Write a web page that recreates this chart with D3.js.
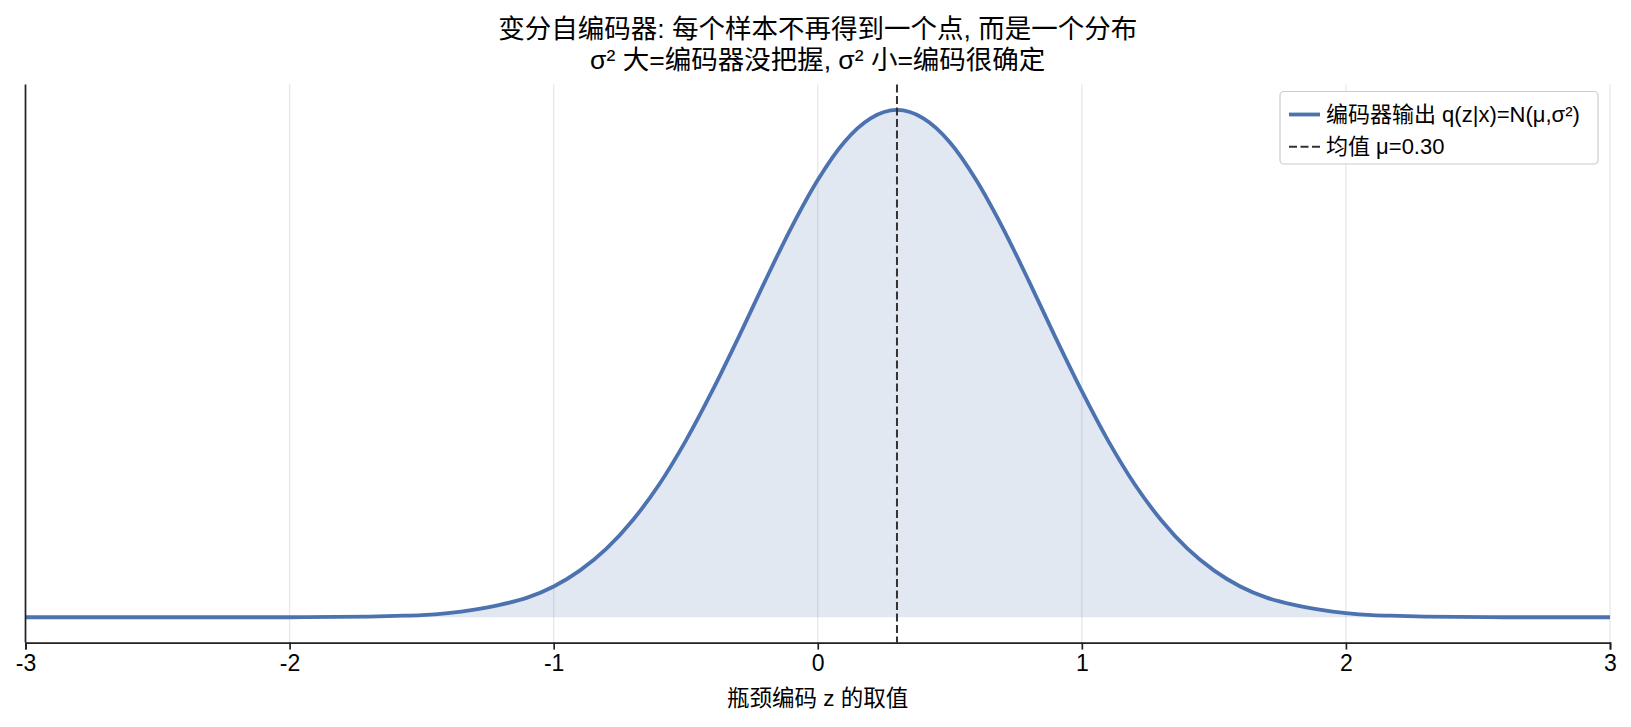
<!DOCTYPE html>
<html>
<head>
<meta charset="utf-8">
<script src="https://cdn.jsdelivr.net/npm/d3@7"></script>
<style>
  body { margin: 0; background: #fff; }
  svg text { font-family: "Liberation Sans", Arial, "Noto Sans CJK SC", sans-serif; fill: #000; }
</style>
</head>
<body>
<div class="vae-plot"></div>
<script>
// values: z and density of q(z|x)
const zValues = [-3.0, -2.5, -2.0,
  -1.7, -1.6, -1.5, -1.4, -1.3, -1.2, -1.1, -1.0, -0.9, -0.8, -0.7, -0.6, -0.5, -0.4, -0.3, -0.2, -0.1,
  0.0, 0.1, 0.2, 0.3, 0.4, 0.5, 0.6, 0.7, 0.8, 0.9, 1.0, 1.1, 1.2, 1.3, 1.4, 1.5, 1.6, 1.7, 1.8, 1.9,
  2.0, 2.1, 2.2, 2.3, 2.6, 3.0];
const density = [0.000, 0.000, 0.000,
  0.001, 0.002, 0.003, 0.006, 0.011, 0.018, 0.028, 0.044, 0.067, 0.098, 0.139, 0.190, 0.252, 0.323, 0.400, 0.480, 0.557,
  0.625, 0.679, 0.713, 0.725, 0.713, 0.679, 0.625, 0.557, 0.480, 0.400, 0.323, 0.252, 0.190, 0.139, 0.098, 0.067, 0.044, 0.028, 0.018, 0.011,
  0.006, 0.003, 0.002, 0.001, 0.000, 0.000];
const muValue = 0.30;
const xTicks = [-3, -2, -1, 0, 1, 2, 3];
const titleLines = ['变分自编码器: 每个样本不再得到一个点, 而是一个分布', 'σ² 大=编码器没把握, σ² 小=编码很确定'];
const xLabel = '瓶颈编码 z 的取值';
const legendLabels = ['编码器输出 q(z|x)=N(μ,σ²)', '均值 μ=0.30'];

const width = 1631;
const height = 727;
const plotLeft = 25.5, plotRight = 1610, plotTop = 84.6, plotBottom = 642.6;
const blue = '#4c72b0';

const points = zValues.map((z, i) => ({z: z, p: density[i]}));
const pMax = d3.max(density);

const x = d3.scaleLinear().domain([-3, 3]).range([plotLeft, plotRight]);
const y = d3.scaleLinear().domain([-0.05 * pMax, 1.05 * pMax]).range([plotBottom, plotTop]);

const svg = d3.select('.vae-plot')
  .append('svg')
  .attr('width', width)
  .attr('height', height);

// grid
svg.selectAll('.grid')
  .data(xTicks)
  .enter()
  .append('line')
  .attr('x1', d => x(d)).attr('x2', d => x(d))
  .attr('y1', plotTop).attr('y2', plotBottom)
  .attr('stroke', '#b0b0b0')
  .attr('stroke-opacity', 0.3)
  .attr('stroke-width', 1.3);

// fill under curve
const area = d3.area()
  .x(d => x(d.z))
  .y0(y(0))
  .y1(d => y(d.p))
  .curve(d3.curveMonotoneX);
svg.append('path')
  .datum(points)
  .attr('d', area)
  .attr('fill', blue)
  .attr('fill-opacity', 0.16);

const line = d3.line()
  .x(d => x(d.z))
  .y(d => y(d.p))
  .curve(d3.curveMonotoneX);
svg.append('path')
  .datum(points)
  .attr('d', line)
  .attr('fill', 'none')
  .attr('stroke', blue)
  .attr('stroke-width', 3.8);

// mean line
svg.append('line')
  .attr('x1', x(muValue)).attr('x2', x(muValue))
  .attr('y1', plotTop).attr('y2', plotBottom)
  .attr('stroke', '#333')
  .attr('stroke-width', 2)
  .attr('stroke-dasharray', '8,3.5');

// axes
const xAxis = d3.axisBottom(x).tickValues(xTicks).tickFormat(d3.format('d')).tickSize(7).tickPadding(5);
const gx = svg.append('g')
  .attr('transform', 'translate(0,' + plotBottom + ')')
  .call(xAxis);
gx.select('.domain').attr('stroke', '#222').attr('stroke-width', 1.7);
gx.selectAll('.tick line').attr('stroke', '#222').attr('stroke-width', 1.7);
gx.selectAll('.tick text')
  .attr('font-size', 23)
  .style('font-family', '"Liberation Sans", Arial, sans-serif')
  .text(d => d < 0 ? '-' + Math.abs(d) : d);

svg.append('line')
  .attr('x1', plotLeft).attr('x2', plotLeft)
  .attr('y1', plotTop).attr('y2', plotBottom)
  .attr('stroke', '#222')
  .attr('stroke-width', 1.7);

// labels
svg.append('text')
  .attr('x', (plotLeft + plotRight) / 2)
  .attr('y', 706)
  .attr('text-anchor', 'middle')
  .attr('font-size', 22.5)
  .text(xLabel);

svg.selectAll('.title')
  .data(titleLines)
  .enter()
  .append('text')
  .attr('x', (plotLeft + plotRight) / 2)
  .attr('y', (d, i) => 38 + i * 31)
  .attr('text-anchor', 'middle')
  .attr('font-size', 26.5)
  .text(d => d);

// legend
const lg = svg.append('g');
lg.append('rect')
  .attr('x', 1280).attr('y', 91.5)
  .attr('width', 318).attr('height', 72.5)
  .attr('rx', 4)
  .attr('fill', '#fff').attr('fill-opacity', 0.8)
  .attr('stroke', '#ccc').attr('stroke-width', 1.2);

const rowY = [114.5, 146.7];
lg.append('line')
  .attr('x1', 1289).attr('x2', 1320)
  .attr('y1', rowY[0]).attr('y2', rowY[0])
  .attr('stroke', blue).attr('stroke-width', 3.8);
lg.append('line')
  .attr('x1', 1289).attr('x2', 1320)
  .attr('y1', rowY[1]).attr('y2', rowY[1])
  .attr('stroke', '#333').attr('stroke-width', 2)
  .attr('stroke-dasharray', '8,3.5');
lg.selectAll('.lt')
  .data(legendLabels)
  .enter()
  .append('text')
  .attr('x', 1326)
  .attr('y', (d, i) => rowY[i] + 7.5)
  .attr('font-size', 22)
  .text(d => d);
</script>
</body>
</html>
